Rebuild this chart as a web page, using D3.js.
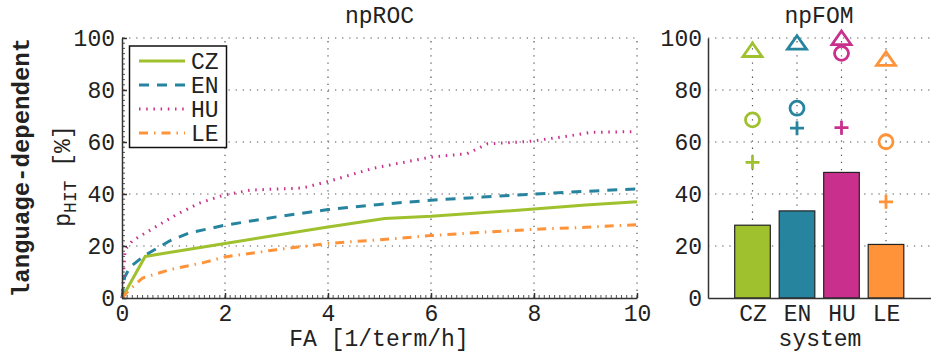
<!DOCTYPE html>
<html><head><meta charset="utf-8">
<script src="https://cdn.jsdelivr.net/npm/d3@7"></script>
<style>
body{margin:0;background:#fff}
svg{display:block}
text{font-family:"Liberation Mono","Courier New",monospace;fill:#222}
</style>
</head><body>
<svg id="c" width="931" height="354"></svg>
<script>
// ---------- data ----------
const systems = ["CZ", "EN", "HU", "LE"];
const colors = ["#9fc12e", "#27849f", "#c92f8c", "#fe9339"];
const faCZ  = [0, 0.45, 2, 4, 5.1, 6, 8, 9, 10];
const hitCZ = [0, 16, 21, 27.3, 30.6, 31.4, 34.2, 35.8, 37];
const faEN  = [0, 0.05, 0.16, 0.45, 0.93, 1.3, 2, 3, 4, 5, 6, 7, 8, 9, 10];
const hitEN = [0, 8, 12, 16.5, 22, 25, 28, 31.2, 34, 36, 37.6, 38.8, 40, 41, 42];
const faHU  = [0, 0.06, 0.2, 0.75, 1.05, 1.5, 2, 2.5, 3.5, 4, 4.9, 6, 6.7, 7.1, 7.9, 8.7, 9.1, 10];
const hitHU = [0, 18.5, 22, 28.5, 32, 36.5, 39.7, 41.5, 42.3, 44.8, 50, 54.2, 55.5, 59.3, 60.2, 62.4, 63.7, 64];
const faLE  = [0, 0.16, 0.4, 0.93, 1.6, 2, 3, 4, 5, 6, 7, 8, 9, 10];
const hitLE = [0, 3.5, 7.7, 10.9, 13.7, 15.8, 18.6, 21, 22.4, 24, 25.3, 26.4, 27.2, 28.2];
const fomBar      = [28, 33.5, 48.3, 20.6];
const fomTriangle = [95, 97.8, 99.6, 91.6];
const fomCircle   = [68.5, 73, 94.1, 60.1];
const fomPlus     = [52.2, 65.3, 65.5, 37];
const xTicks = [0, 2, 4, 6, 8, 10];
const yTicks = [0, 20, 40, 60, 80, 100];

const rocSeries = [
  {name: systems[0], fa: faCZ, hit: hitCZ, dash: null},
  {name: systems[1], fa: faEN, hit: hitEN, dash: "10,8"},
  {name: systems[2], fa: faHU, hit: hitHU, dash: "1.5,5.7"},
  {name: systems[3], fa: faLE, hit: hitLE, dash: "9,6,1.5,6"}
];

// ---------- layout ----------
const FS = 23;
const svg = d3.select("#c");
const x = d3.scaleLinear().domain([0, 10]).range([122, 637]);
const y = d3.scaleLinear().domain([0, 100]).range([298, 38]);
const xb = d3.scaleLinear().domain([0, 5]).range([708, 930.5]);

const gridStyle = sel => sel.attr("stroke", "#555").attr("stroke-width", 1.2)
  .attr("stroke-dasharray", "1.3,5.8").attr("fill", "none");

// ---------- left: npROC ----------
const gl = svg.append("g");
gl.selectAll("line.gy").data(yTicks.slice(1)).join("line")
  .attr("x1", x(0)).attr("x2", x(10)).attr("y1", d => y(d)).attr("y2", d => y(d)).call(gridStyle);
gl.selectAll("line.gx").data(xTicks.slice(1)).join("line")
  .attr("x1", d => x(d)).attr("x2", d => x(d)).attr("y1", y(0)).attr("y2", y(100)).call(gridStyle);

// minor ticks
gl.append("g").selectAll("line").data(x.ticks(100)).join("line")
  .attr("x1", d => x(d)).attr("x2", d => x(d)).attr("y1", y(0)).attr("y2", y(0) - 3)
  .attr("stroke", "#555").attr("stroke-width", 1);
gl.append("g").selectAll("line").data(y.ticks(50)).join("line")
  .attr("x1", x(0)).attr("x2", x(0) + 3).attr("y1", d => y(d)).attr("y2", d => y(d))
  .attr("stroke", "#555").attr("stroke-width", 1);

// lines
const line = d3.line().x(d => x(d[0])).y(d => y(d[1]));
rocSeries.forEach((s, i) => {
  gl.append("path").datum(s.fa.map((f, k) => [f, s.hit[k]]))
    .attr("d", line).attr("fill", "none").attr("stroke", colors[i])
    .attr("stroke-width", 3).attr("stroke-dasharray", s.dash);
});

// axes
const axL = gl.append("g").attr("transform", `translate(${x(0)},0)`)
  .call(d3.axisLeft(y).tickValues(yTicks).tickSizeInner(-5).tickSizeOuter(0).tickPadding(7));
const axB = gl.append("g").attr("transform", `translate(0,${y(0)})`)
  .call(d3.axisBottom(x).tickValues(xTicks).tickSizeInner(-5).tickSizeOuter(0).tickPadding(7));
[axL, axB].forEach(a => {
  a.select(".domain").attr("stroke", "#333").attr("stroke-width", 1.5);
  a.selectAll(".tick line").attr("stroke", "#333").attr("stroke-width", 1.5);
  a.selectAll("text").style("font-size", FS + "px").attr("fill", "#222");
});

// titles
gl.append("text").attr("x", 379.5).attr("y", 23).attr("text-anchor", "middle")
  .style("font-size", FS + "px").text("npROC");
gl.append("text").attr("x", 379).attr("y", 346).attr("text-anchor", "middle")
  .style("font-size", FS + "px").text("FA [1/term/h]");
const yl = gl.append("text").attr("transform", "translate(70,176) rotate(-90)")
  .attr("text-anchor", "middle").style("font-size", FS + "px");
yl.append("tspan").text("p");
yl.append("tspan").attr("dy", 6).style("font-size", "18px").text("HIT");
yl.append("tspan").attr("dy", -6).text(" [%]");

svg.append("text").attr("transform", "translate(29,167.5) rotate(-90)")
  .attr("text-anchor", "middle").style("font-size", "24px").style("font-weight", "bold")
  .text("language-dependent");

// legend
const lg = gl.append("g");
lg.append("rect").attr("x", 129.5).attr("y", 46).attr("width", 97).attr("height", 101.5)
  .attr("fill", "#fff").attr("stroke", "#111").attr("stroke-width", 1.5);
const legY = [61, 85, 109, 133];
rocSeries.forEach((s, i) => {
  lg.append("line").attr("x1", 139).attr("x2", 185).attr("y1", legY[i]).attr("y2", legY[i])
    .attr("stroke", colors[i]).attr("stroke-width", 3).attr("stroke-dasharray", s.dash);
  lg.append("text").attr("x", 191).attr("y", legY[i]).attr("dy", "0.35em")
    .style("font-size", FS + "px").text(s.name);
});

// ---------- right: npFOM ----------
const gr = svg.append("g");
gr.selectAll("line.gy").data(yTicks.slice(1)).join("line")
  .attr("x1", xb(0)).attr("x2", xb(5)).attr("y1", d => y(d)).attr("y2", d => y(d)).call(gridStyle);
gr.selectAll("line.gx").data([1, 2, 3, 4]).join("line")
  .attr("x1", d => xb(d)).attr("x2", d => xb(d)).attr("y1", y(0)).attr("y2", y(100)).call(gridStyle);

const bw = xb(0.8) - xb(0);
gr.selectAll("rect.bar").data(fomBar).join("rect")
  .attr("x", (d, i) => xb(i + 1) - bw / 2).attr("width", bw)
  .attr("y", d => y(d)).attr("height", d => y(0) - y(d))
  .attr("fill", (d, i) => colors[i]).attr("stroke", "#222").attr("stroke-width", 1.2);

// markers
const tri = "M0,-8L9.5,5.5L-9.5,5.5Z";
gr.selectAll("path.tri").data(fomTriangle).join("path")
  .attr("d", tri).attr("transform", (d, i) => `translate(${xb(i + 1)},${y(d)})`)
  .attr("fill", "none").attr("stroke", (d, i) => colors[i]).attr("stroke-width", 2.8)
  .attr("stroke-linejoin", "miter");
gr.selectAll("circle.cir").data(fomCircle).join("circle")
  .attr("cx", (d, i) => xb(i + 1)).attr("cy", d => y(d)).attr("r", 7)
  .attr("fill", "none").attr("stroke", (d, i) => colors[i]).attr("stroke-width", 2.8);
gr.selectAll("path.plus").data(fomPlus).join("path")
  .attr("d", "M-7,0H7M0,-7V7").attr("transform", (d, i) => `translate(${xb(i + 1)},${y(d)})`)
  .attr("fill", "none").attr("stroke", (d, i) => colors[i]).attr("stroke-width", 2.8);

const axR = gr.append("g").attr("transform", `translate(${xb(0)},0)`)
  .call(d3.axisLeft(y).tickValues(yTicks).tickSizeInner(0).tickSizeOuter(0).tickPadding(6));
const axRB = gr.append("g").attr("transform", `translate(0,${y(0)})`)
  .call(d3.axisBottom(xb).tickValues([1, 2, 3, 4]).tickFormat(d => systems[d - 1])
    .tickSizeInner(0).tickSizeOuter(0).tickPadding(7));
[axR, axRB].forEach(a => {
  a.select(".domain").attr("stroke", "#333").attr("stroke-width", 1.5);
  a.selectAll("text").style("font-size", FS + "px").attr("fill", "#222");
});
gr.append("text").attr("x", 819).attr("y", 23).attr("text-anchor", "middle")
  .style("font-size", FS + "px").text("npFOM");
gr.append("text").attr("x", 820).attr("y", 346).attr("text-anchor", "middle")
  .style("font-size", FS + "px").text("system");
</script>
</body></html>
